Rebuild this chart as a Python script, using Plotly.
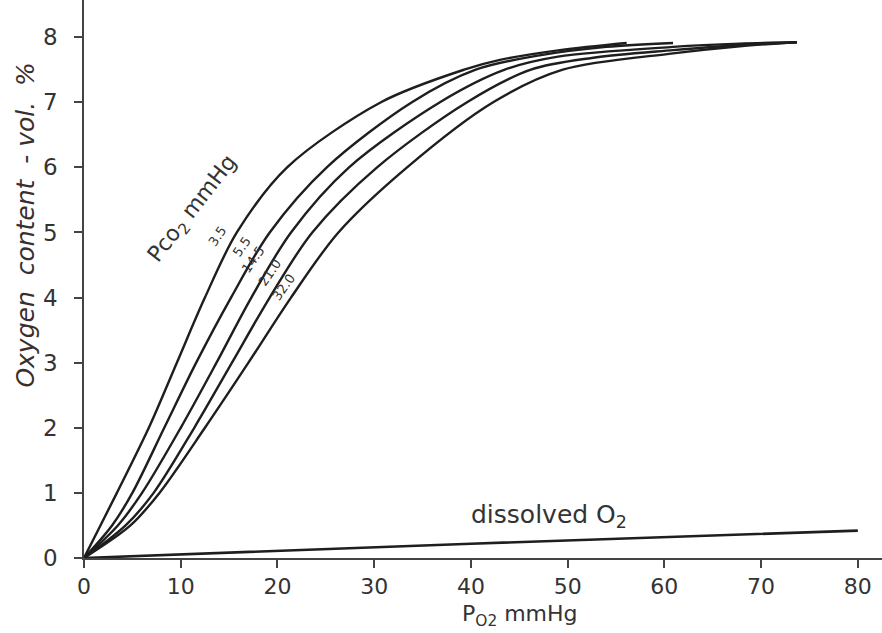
import plotly.graph_objects as go

# P_CO2 levels (mmHg) labelling each dissociation curve
pco2_labels = ["3.5", "5.5", "14.5", "21.0", "32.0"]

# P_O2 (mmHg) and oxygen content (vol. %)
po2_35 = [0, 1.7, 3.4, 6.7, 9.6, 12.5, 15.8, 21.0, 30.7, 39.3, 43.0, 49.2, 56.1]
o2_35 = [0, 0.5, 1.0, 2.0, 3.0, 4.0, 5.0, 6.0, 7.0, 7.5, 7.65, 7.80, 7.91]

po2_55 = [0, 2.9, 5.0, 8.3, 11.6, 15.2, 19.2, 25.1, 33.9, 40.5, 47.1, 54.0, 60.9]
o2_55 = [0, 0.5, 1.0, 2.0, 3.0, 4.0, 5.0, 6.0, 7.0, 7.5, 7.72, 7.85, 7.91]

po2_145 = [0, 3.5, 6.0, 10.0, 13.7, 17.3, 21.4, 27.4, 36.8, 43.5, 49.0, 60.9, 67.8, 73.7]
o2_145 = [0, 0.5, 1.0, 2.0, 3.0, 4.0, 5.0, 6.0, 7.0, 7.5, 7.70, 7.85, 7.90, 7.92]

po2_210 = [0, 4.3, 7.2, 11.4, 15.3, 19.2, 23.6, 30.3, 39.6, 46.2, 52.5, 60.9, 67.8, 73.7]
o2_210 = [0, 0.5, 1.0, 2.0, 3.0, 4.0, 5.0, 6.0, 7.0, 7.5, 7.68, 7.80, 7.88, 7.92]

po2_320 = [0, 4.8, 7.8, 12.5, 17.0, 21.4, 26.3, 33.4, 42.3, 49.5, 60.9, 67.8, 73.7]
o2_320 = [0, 0.5, 1.0, 2.0, 3.0, 4.0, 5.0, 6.0, 7.0, 7.5, 7.75, 7.86, 7.92]

po2_dissolved = [0, 40, 80]
o2_dissolved = [0, 0.22, 0.42]

# label anchor points (data coords)
label_x = [13.85, 16.3, 17.5, 19.2, 20.6]
label_y = [4.95, 4.79, 4.58, 4.39, 4.16]

x_ticks = [0, 10, 20, 30, 40, 50, 60, 70, 80]
y_ticks = [0, 1, 2, 3, 4, 5, 6, 7, 8]

FONT = "DejaVu Sans"
INK = "#1e1e1e"
TXT = "#333333"

curves = [(po2_35, o2_35), (po2_55, o2_55), (po2_145, o2_145),
          (po2_210, o2_210), (po2_320, o2_320)]

fig = go.Figure()
for (xs, ys), name in zip(curves, pco2_labels):
    fig.add_trace(go.Scatter(x=xs, y=ys, mode="lines", name=name,
                             line=dict(color=INK, width=2.4, shape="spline", smoothing=0.9),
                             showlegend=False, hoverinfo="skip"))
fig.add_trace(go.Scatter(x=po2_dissolved, y=o2_dissolved, mode="lines",
                         line=dict(color=INK, width=2.6), showlegend=False, hoverinfo="skip"))

for lab, lx, ly in zip(pco2_labels, label_x, label_y):
    fig.add_annotation(x=lx, y=ly, text=lab, showarrow=False, textangle=-55,
                       font=dict(family=FONT, size=13, color=TXT))

fig.add_annotation(x=11.3, y=5.35, text="Pco<sub>2</sub> mmHg", showarrow=False, textangle=-52,
                   font=dict(family=FONT, size=22, color=TXT))
fig.add_annotation(x=48.1, y=0.64, text="dissolved O<sub>2</sub>", showarrow=False,
                   font=dict(family=FONT, size=25, color=TXT))

# axis titles
NB = "\u00a0"
ytitle = "Oxygen" + NB * 2 + "content" + NB * 2 + "-" + NB + "vol." + NB * 2 + "%"
fig.add_annotation(xref="paper", yref="paper", x=-0.073, y=0.597, text="<i>" + ytitle + "</i>",
                   showarrow=False, textangle=-90, xanchor="center", yanchor="middle",
                   font=dict(family=FONT, size=25, color="#3a2e2e"))
fig.add_annotation(xref="paper", yref="paper", x=0.546, y=-0.103, text="P<sub>O2</sub> mmHg",
                   showarrow=False, xanchor="center", yanchor="middle",
                   font=dict(family=FONT, size=22, color=TXT))

fig.update_layout(
    width=882, height=633,
    margin=dict(l=84, r=0, t=0, b=75),
    paper_bgcolor="white", plot_bgcolor="white",
    xaxis=dict(range=[0, 82.5], tickvals=x_ticks, ticktext=[str(v) for v in x_ticks],
               showgrid=False, zeroline=False, showline=True, linecolor="#444", linewidth=1.5,
               ticks="outside", ticklen=8, tickwidth=1.5, tickcolor="#444",
               tickfont=dict(family=FONT, size=22, color=TXT)),
    yaxis=dict(range=[0, 8.57], tickvals=y_ticks, ticktext=[str(v) for v in y_ticks],
               showgrid=False, zeroline=False, showline=True, linecolor="#444", linewidth=1.5,
               ticks="outside", ticklen=8, tickwidth=1.5, tickcolor="#444",
               ticklabelstandoff=12,
               tickfont=dict(family=FONT, size=23, color=TXT)),
)

fig.write_html("out.html", config={"displayModeBar": False},
               post_script="document.body.style.margin='0';document.body.style.padding='0';")
